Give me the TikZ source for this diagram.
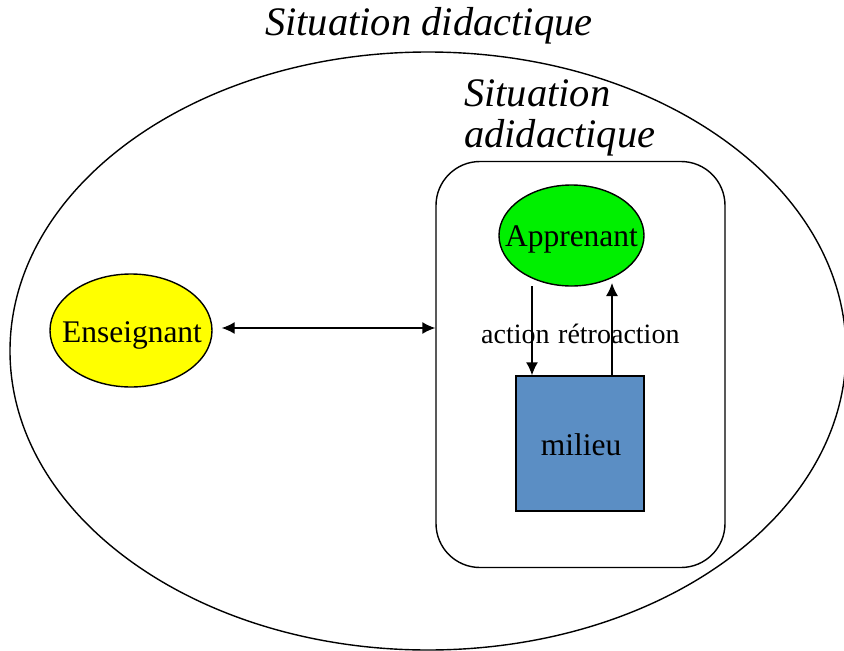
\documentclass[tikz,border=0pt]{standalone}
\usepackage{fontspec}
\setmainfont{Liberation Serif}
\usetikzlibrary{arrows.meta,shapes.geometric,calc}
\definecolor{ensyellow}{RGB}{255,255,0}
\definecolor{appgreen}{RGB}{0,240,0}
\definecolor{milblue}{RGB}{91,142,196}
\tikzset{
  outline/.style={draw=black,line width=1.4pt},
  bubble/.style={ellipse,outline,inner sep=0pt},
  bubbletext/.style={inner sep=0pt,font=\fontsize{31.5}{36}\selectfont},
  titletext/.style={inner sep=0pt,font=\fontsize{40.5}{41}\selectfont\itshape},
  labeltext/.style={inner sep=0pt,font=\fontsize{28}{32}\selectfont},
  arr/.style={line width=1.4pt,-{Latex[length=13pt,width=12pt]}},
  dblarr/.style={line width=1.4pt,{Latex[length=13pt,width=12pt]}-{Latex[length=13pt,width=12pt]}}
}
\begin{document}
\begin{tikzpicture}[x=1pt,y=-1pt]
\useasboundingbox (0,0) rectangle (844,651);
% outer ellipse
\node[ellipse,outline,minimum width=836pt,minimum height=598pt,inner sep=0pt] (outer) at (428,351) {};
\node[titletext,anchor=base west] (t1) at (265,35) {Situation didactique};
% rounded box
\node[outline,rounded corners=44pt,minimum width=289pt,minimum height=406pt,inner sep=0pt] (box) at (580.5,364.5) {};
\node[titletext,anchor=base west] (t2) at (464,106) {Situation};
\node[titletext,anchor=base west] (t3) at (464,147) {adidactique};
% nodes
\node[bubble,fill=ensyellow,minimum width=162pt,minimum height=113pt] (ens) at (131,330.5) {};
\node[bubbletext,anchor=base] (enstext) at (132,342) {Enseignant};
\node[bubble,fill=appgreen,minimum width=145pt,minimum height=101pt] (app) at (571.5,235.5) {};
\node[bubbletext,anchor=base] (apptext) at (571.5,246) {Apprenant};
\node[outline,fill=milblue,minimum width=128pt,minimum height=135pt,inner sep=0pt] (mil) at (580,443.5) {};
\node[bubbletext,anchor=base] (miltext) at (581,455) {milieu};
% connectors
\draw[dblarr,shorten <=9pt] (ens.east |- 0,328) -- (box.west |- 0,328);
\coordinate (a1) at (532,286);
\coordinate (r1) at (612,283);
\draw[arr] (a1) -- (a1 |- mil.north);
\draw[arr] (r1 |- mil.north) -- (r1);
\node[labeltext,anchor=base west] (lact) at (481,343) {action};
\node[labeltext,anchor=base west] (lret) at (558,343) {rétroaction};
\end{tikzpicture}
\end{document}
